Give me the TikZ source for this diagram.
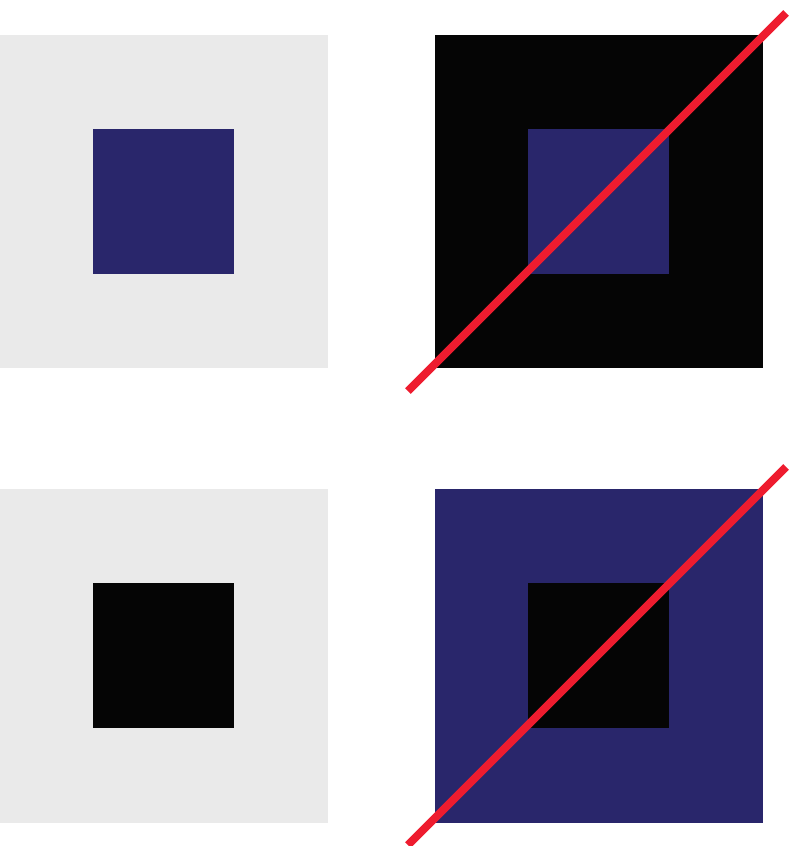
\documentclass[tikz,border=0pt]{standalone}
\definecolor{lgray}{HTML}{EAEAEA}
\definecolor{navy}{HTML}{29266B}
\definecolor{nblack}{HTML}{050505}
\definecolor{cred}{HTML}{EE1C2F}
\begin{document}
\begin{tikzpicture}[x=1pt,y=-1pt,
  slash/.style={draw=cred,line width=8pt,line cap=butt}]
\useasboundingbox (0,0) rectangle (789,846);
% top left
\fill[lgray] (0,35) rectangle (328,368);
\fill[navy] (93,129) rectangle (234,274);
% top right
\fill[nblack] (435,35) rectangle (763,368);
\fill[navy] (528,129) rectangle (669,274);
\coordinate (a1) at (408,391);
\coordinate (a2) at (786,13);
\draw[slash] (a1) -- (a2);
% bottom left
\fill[lgray] (0,489) rectangle (328,823);
\fill[nblack] (93,583) rectangle (234,728);
% bottom right
\fill[navy] (435,489) rectangle (763,823);
\fill[nblack] (528,583) rectangle (669,728);
\coordinate (b1) at (408,845);
\coordinate (b2) at (786,467);
\draw[slash] (b1) -- (b2);
\end{tikzpicture}
\end{document}
